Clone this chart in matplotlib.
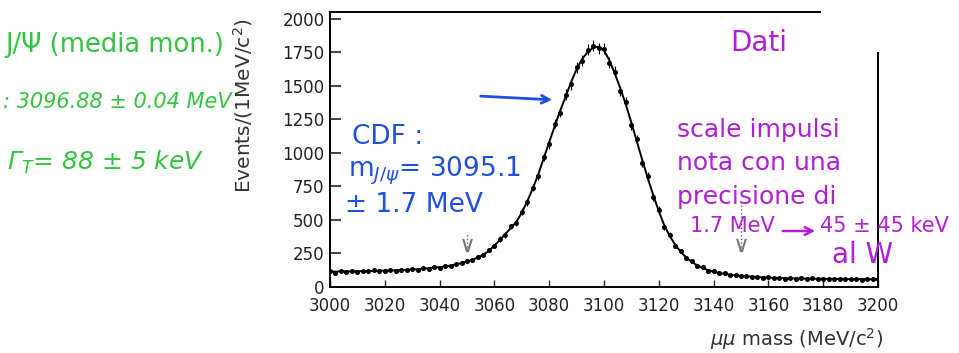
import numpy as np
import matplotlib.pyplot as plt
from matplotlib.patches import FancyArrowPatch

# dati: massa mu-mu (bin da 2 MeV), conteggi e curva di fit
mass = np.arange(3000, 3201, 2)
counts = [118, 108, 121, 112, 119, 114, 122, 116, 125, 117,
          120, 127, 119, 130, 124, 133, 129, 140, 137, 149,
          145, 157, 155, 172, 176, 196, 200, 226, 238, 276,
          305, 358, 389, 452, 480, 563, 632, 741, 828, 972,
          1066, 1218, 1302, 1436, 1512, 1641, 1688, 1770, 1802, 1781,
          1779, 1672, 1606, 1462, 1378, 1207, 1101, 928, 826, 671,
          578, 449, 391, 306, 270, 214, 193, 157, 146, 121,
          118, 101, 102, 88, 91, 79, 84, 74, 77, 69,
          73, 65, 70, 63, 68, 61, 66, 59, 64, 58,
          63, 57, 62, 58, 61, 56, 62, 55, 60, 57, 61]
fit = [115, 115, 116, 116, 117, 118, 118, 119, 120, 121,
       122, 123, 125, 126, 128, 130, 133, 136, 140, 144,
       148, 154, 160, 169, 179, 190, 204, 220, 242, 270,
       310, 350, 395, 440, 485, 555, 640, 735, 840, 960,
       1080, 1200, 1315, 1420, 1530, 1625, 1700, 1752, 1785, 1793,
       1765, 1690, 1590, 1480, 1360, 1225, 1085, 945, 810, 685,
       565, 460, 380, 315, 262, 220, 188, 162, 142, 126,
       114, 105, 98, 92, 87, 83, 80, 77, 74, 72,
       70, 68, 67, 66, 65, 64, 63, 62, 62, 61,
       61, 60, 60, 60, 59, 59, 59, 58, 58, 58, 58]
window = [3050, 3150]
window_top = [400, 640]
yticks = [0, 250, 500, 750, 1000, 1250, 1500, 1750, 2000]

W, H = 959, 353


def px(x, y):
    # coordinate in pixel (dall'alto) -> frazione della figura
    return x / W, 1 - y / H


fig = plt.figure(figsize=(W / 100, H / 100), dpi=100)
ax = fig.add_axes([330 / W, 66 / H, 548 / W, 275 / H])

counts = np.array(counts)
ax.errorbar(mass, counts, yerr=np.sqrt(counts), fmt='o', ms=2.6, color='black',
            elinewidth=0.8, capsize=0)
ax.plot(mass, fit, color='black', lw=1.4)

# finestra di massa (frecce tratteggiate)
ax.vlines(window, 300, window_top, colors='#666666', linestyles=':', lw=1)
ax.scatter(window, [315, 315], marker=r'$\vee$', s=90, color='#777777',
           linewidths=0)

ax.set_xlim(3000, 3200)
ax.set_ylim(0, 2052)
ax.set_xticks(np.arange(3000, 3201, 20))
ax.set_yticks(yticks)
ax.tick_params(direction='in', labelsize=12, colors='#222222')
ax.tick_params(axis='y', length=8, width=1.2, pad=4)
ax.tick_params(axis='x', length=5, width=1.0, pad=7)
for s in ax.spines.values():
    s.set_linewidth(1.4)
ax.spines['top'].set_bounds(3000, 3179)
ax.spines['right'].set_bounds(0, 1745)

fig.text(*px(243, 106), 'Events/(1MeV/c$^2$)', rotation=90, ha='center',
         va='center', fontsize=14.5, color='#333333')
fig.text(*px(883, 339), r'$\mu\mu$ mass (MeV/c$^2$)', ha='right', va='center',
         fontsize=14, color='#333333')

# appunti a mano
green = '#33c43f'
fig.text(*px(5, 45), 'J/Ψ (media mon.)', color=green, fontsize=18.5, va='center')
fig.text(*px(3, 102), ': 3096.88 ± 0.04 MeV', color=green, fontsize=15,
         va='center', style='italic')
fig.text(*px(7, 162), 'Γ$_T$= 88 ± 5 keV', color=green, fontsize=18,
         va='center', style='italic')

blue = '#1f4fdc'
fig.text(*px(352, 137), 'CDF :', color=blue, fontsize=19, va='center')
fig.text(*px(348, 171), 'm$_{J/ψ}$= 3095.1', color=blue, fontsize=19, va='center')
fig.text(*px(345, 205), '± 1.7 MeV', color=blue, fontsize=19, va='center')
fig.patches.append(FancyArrowPatch(
    px(478, 96), px(555, 100), transform=fig.transFigure, arrowstyle='->',
    mutation_scale=14, color=blue, lw=2))

purple = '#b01ed8'
fig.text(*px(730, 43), 'Dati', color=purple, fontsize=20, va='center')
fig.text(*px(677, 130), 'scale impulsi', color=purple, fontsize=18, va='center')
fig.text(*px(677, 163), 'nota con una', color=purple, fontsize=18, va='center')
fig.text(*px(677, 197), 'precisione di', color=purple, fontsize=18, va='center')
fig.text(*px(690, 226), '1.7 MeV', color=purple, fontsize=15, va='center')
fig.patches.append(FancyArrowPatch(
    px(780, 231), px(818, 231), transform=fig.transFigure, arrowstyle='->',
    mutation_scale=14, color=purple, lw=1.8))
fig.text(*px(820, 226), '45 ± 45 keV', color=purple, fontsize=15, va='center')
fig.text(*px(832, 255), 'al W', color=purple, fontsize=20, va='center')

fig.savefig('out.png', dpi=100)
